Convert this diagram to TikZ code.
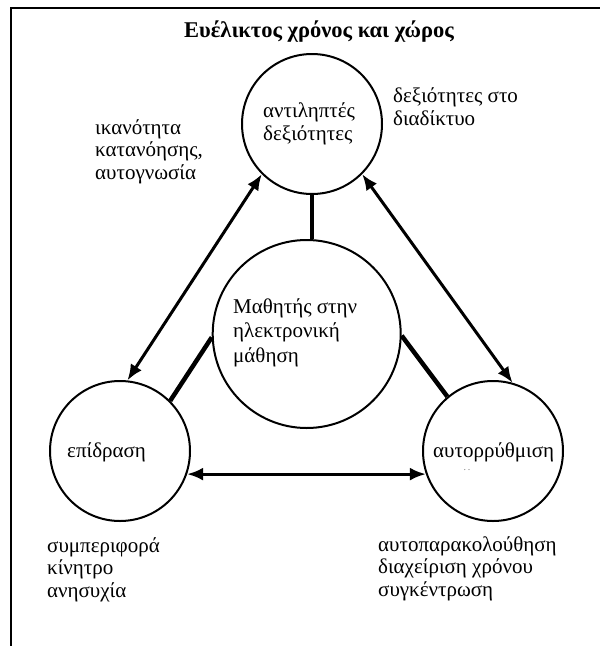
\documentclass[tikz,border=0pt]{standalone}
\usepackage{fontspec}
\setmainfont{Liberation Serif}
\usetikzlibrary{arrows.meta}
\begin{document}
\begin{tikzpicture}[x=1pt,y=1pt,yscale=-1,xscale=1,
    bubble/.style={draw,circle,line width=2pt,minimum size=140pt,inner sep=0pt},
    lbl/.style={anchor=base west,align=left,inner sep=0pt,font=\fontsize{21}{22.5}\selectfont},
    twoway/.style={line width=3pt,{Latex[length=16pt,width=13pt]}-{Latex[length=16pt,width=13pt]}},
    link/.style={line width=4.5pt}]
    \useasboundingbox (0,0) rectangle (600,646);
    
    % Frame
    \draw[line width=2.5pt] (10,8) -- (600,8);
    \draw[line width=1.2pt] (11,8) -- (11,646);
    
    % Title
    \node[anchor=base,inner sep=0pt,font=\fontsize{22.5}{24}\selectfont\bfseries] (title) at (319,37) {Ευέλικτος χρόνος και χώρος};
    
    % Circles
    \node[bubble] (skills) at (312,124) {};
    \node[bubble,minimum size=188pt] (learner) at (306.7,334) {};
    \node[bubble] (impact) at (120,451) {};
    \node[bubble] (selfreg) at (493,451) {};
    
    % Text Node (base = last line)
    \node[lbl] (skillstxt) at (263,140) {αντιληπτές\\δεξιότητες};
    % Text Node
    \node[lbl] (webtxt) at (393,125) {δεξιότητες στο\\διαδίκτυο};
    % Text Node
    \node[lbl] (undtxt) at (95,179) {ικανότητα\\κατανόησης,\\αυτογνωσία};
    % Text Node
    \node[lbl,font=\fontsize{21}{24.5}\selectfont] (learnertxt) at (233,362) {Μαθητής στην\\ηλεκτρονική\\μάθηση};
    % Text Node
    \node[lbl] (impacttxt) at (67,457) {επίδραση};
    % Text Node
    \node[lbl] (selfregtxt) at (433,457) {αυτορρύθμιση};
    \node[inner sep=0pt,text=gray,font=\fontsize{10}{10}\selectfont] (specks) at (467,470) {.\,.};
    % Text Node
    \node[lbl] (behavtxt) at (47,597) {συμπεριφορά\\κίνητρο\\ανησυχία};
    % Text Node
    \node[lbl] (monitxt) at (378,596) {αυτοπαρακολούθηση\\διαχείριση χρόνου\\συγκέντρωση};
    
    % Connection
    \draw[twoway] (skills.225) -- (impact.84);
    % Connection
    \draw[twoway] (skills.-45) -- (selfreg.74);
    % Connection
    \draw[twoway] (impact.-19) -- (selfreg.199);
    % Connection
    \draw[link] (skills.south) -- (skills.south |- learner.north);
    % Connection
    \draw[link] (learner.182) -- (impact.45);
    % Connection
    \draw[link] (learner.-1) -- (selfreg.130);
    
\end{tikzpicture}
\end{document}
